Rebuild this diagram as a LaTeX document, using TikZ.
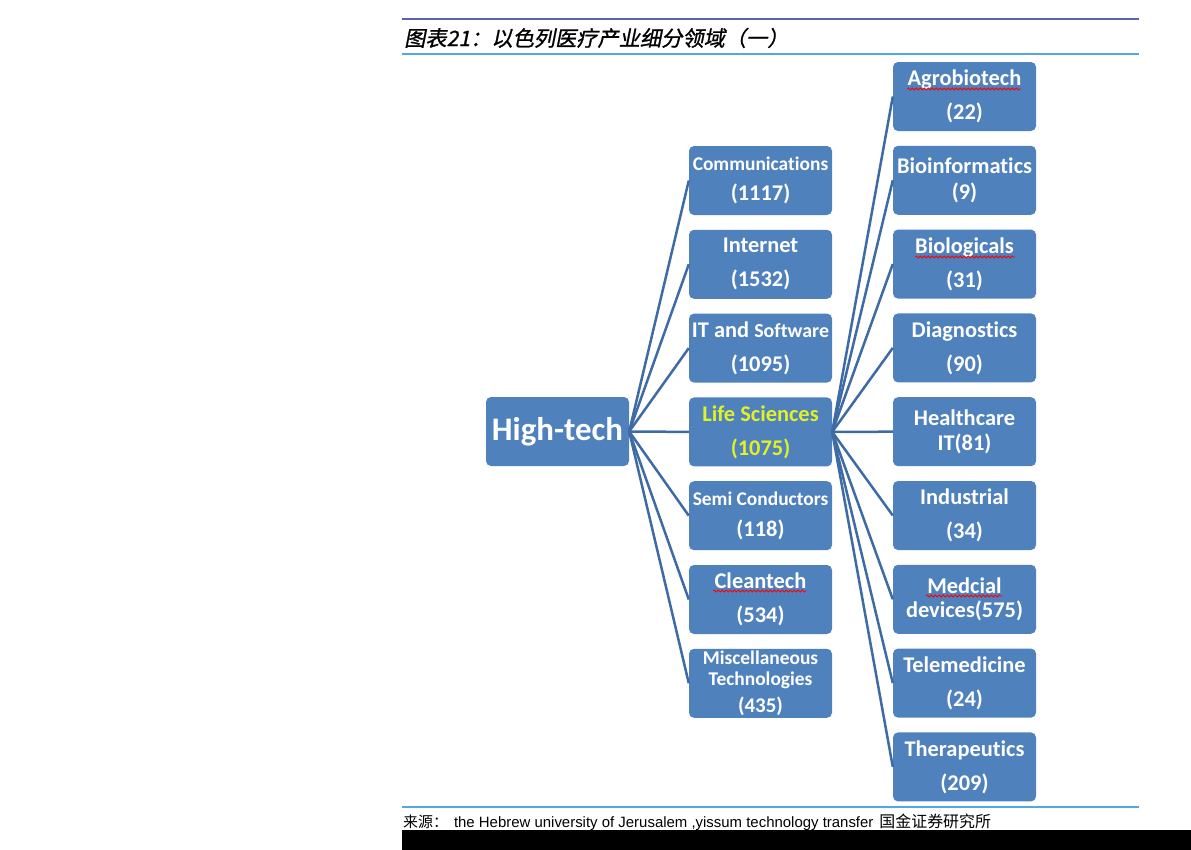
\documentclass[tikz,border=0pt]{standalone}
\usepackage{fontspec}
\setmainfont{Carlito}[Ligatures=NoCommon]
\newfontfamily\cjk{Noto Sans CJK SC}
\newfontfamily\cjkslant[FakeSlant=0.2, FakeBold=1]{Noto Sans CJK SC}
\newfontfamily\arial{Liberation Sans}
\usetikzlibrary{positioning, decorations.pathmorphing}
\definecolor{boxblue}{RGB}{79,129,189}
\definecolor{linkblue}{RGB}{62,106,165}
\definecolor{rulelight}{RGB}{80,170,225}
\definecolor{ruledark}{RGB}{90,100,170}
\definecolor{lifeyellow}{RGB}{225,240,40}
\newcommand{\numsize}{\fontsize{22.5}{22.5}\selectfont}
\tikzset{
    box/.style={rectangle, rounded corners=5bp, fill=boxblue, text=white,
      font=\bfseries\fontsize{22.5}{34}\selectfont, minimum width=143bp,
      minimum height=69bp, inner sep=0pt, align=center},
    link/.style={draw=linkblue, line width=2.5bp},
    typo/.style={draw=red, line width=0.8bp, decorate,
      decoration={snake, segment length=4bp, amplitude=1bp}},
}

\begin{document}
\begin{tikzpicture}[x=1bp, y=-1bp]
    \useasboundingbox (0,0) rectangle (1191,850);

    % title and rules
    \draw[ruledark, line width=2bp] (402,19) -- (1139,19);
    \node[anchor=west, inner sep=0pt, font=\cjkslant\fontsize{21.3}{21.3}\selectfont] (title) at (404,38) {图表21：以色列医疗产业细分领域（一）};
    \draw[rulelight, line width=1.2bp] (402,54) -- (1139,54);

    \node[box, font=\bfseries\fontsize{33}{33}\selectfont] (ht) at (557.5,431.5) {High-tech};

    % sectors
    \node[box, font=\bfseries\fontsize{19.5}{30}\selectfont] (comm) at (760.5,180.5) {Communications\\{\numsize(1117)}};
    \node[box, below=14.4bp of comm] (inet) {Internet\\(1532)};
    \node[box, below=14.4bp of inet] (itsw) {IT and {\fontsize{20}{20}\selectfont Software}\\(1095)};
    \node[box, below=14.4bp of itsw, text=lifeyellow] (life) {Life Sciences\\(1075)};
    \node[box, below=14.4bp of life, font=\bfseries\fontsize{19.5}{31}\selectfont] (semi) {Semi Conductors\\{\numsize(118)}};
    \node[box, below=14.4bp of semi] (clean) {Cleantech\\(534)};
    \node[box, below=14.4bp of clean, font=\bfseries\fontsize{19.5}{21}\selectfont] (misc) {Miscellaneous\\Technologies\\[7bp]{\fontsize{21}{21}\selectfont(435)}};

    % life sciences fields
    \node[box] (agro) at (964.5,96.5) {Agrobiotech\\(22)};
    \node[box, below=14.4bp of agro, font=\bfseries\fontsize{22.5}{26}\selectfont] (bioinf) {Bioinformatics\\(9)};
    \node[box, below=14.4bp of bioinf] (biolog) {Biologicals\\(31)};
    \node[box, below=14.4bp of biolog] (diag) {Diagnostics\\(90)};
    \node[box, below=14.4bp of diag, font=\bfseries\fontsize{22.5}{25}\selectfont] (hcit) {Healthcare\\IT(81)};
    \node[box, below=14.4bp of hcit] (indus) {Industrial\\(34)};
    \node[box, below=14.4bp of indus, font=\bfseries\fontsize{22.5}{24}\selectfont] (medic) {Medcial\\devices(575)};
    \node[box, below=14.4bp of medic] (telemed) {Telemedicine\\(24)};
    \node[box, below=14.4bp of telemed] (thera) {Therapeutics\\(209)};

    \foreach \n in {comm,inet,itsw,life,semi,clean,misc}
      \draw[link] (ht.east) -- (\n.west);
    \foreach \n in {agro,bioinf,biolog,diag,hcit,indus,medic,telemed,thera}
      \draw[link] (life.east) -- (\n.west);

    % spelling marks
    \draw[typo] (907,89) -- (1021,89);
    \draw[typo] (915,257) -- (1015,257);
    \draw[typo] (713,591) -- (806,591);
    \draw[typo] (926,596) -- (1002,596);

    % source
    \draw[rulelight, line width=1.2bp] (402,807) -- (1139,807);
    \node[anchor=west, inner sep=0pt, font=\fontsize{15}{15}\selectfont] (src) at (403,822)
      {{\cjk 来源：}\hspace{6bp}{\arial the Hebrew university of Jerusalem ,yissum technology transfer}\hspace{6bp}{\cjk\fontsize{16}{16}\selectfont 国金证券研究所}};
    \fill[black] (402,830) rectangle (1191,850);
\end{tikzpicture}
\end{document}
